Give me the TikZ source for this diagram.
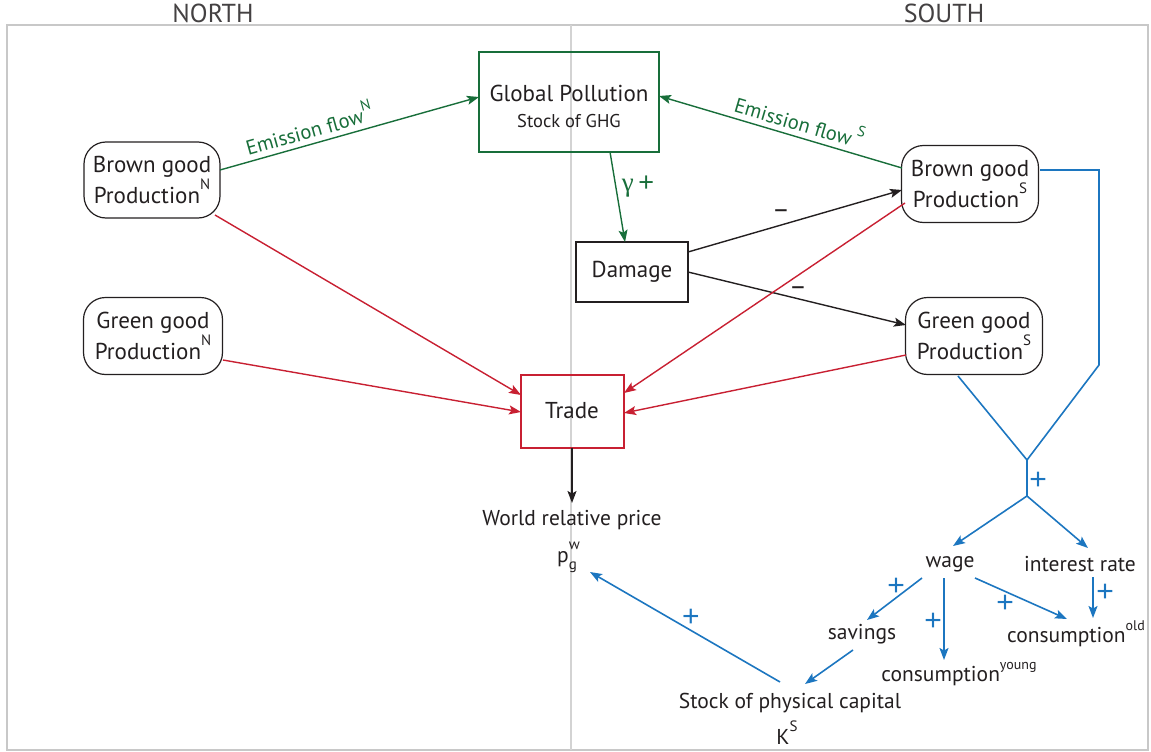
\documentclass[tikz,border=0pt]{standalone}
\usepackage{fontspec}
\setmainfont{PT Sans}
\newfontfamily\gfont{Liberation Serif}
\newfontfamily\pfont{Liberation Sans}
\usetikzlibrary{arrows.meta,calc,positioning}
\definecolor{cgreen}{RGB}{24,110,58}
\definecolor{cred}{RGB}{200,32,50}
\definecolor{cblue}{RGB}{28,118,192}
\definecolor{cgray}{RGB}{200,200,200}
\definecolor{ctext}{RGB}{35,31,32}
\newcommand{\sups}[1]{\raisebox{0.6em}{\fontsize{15}{15}\selectfont #1}}
\newcommand{\supw}[1]{\raisebox{0.55em}{\fontsize{14}{14}\selectfont #1}}
\begin{document}
\begin{tikzpicture}[x=1pt,y=-1pt,
  >={Stealth[length=12pt,width=9pt,inset=2.5pt]},
  boxfont/.style={font=\fontsize{23}{29}\selectfont,text=ctext},
  lblfont/.style={font=\fontsize{21.5}{26}\selectfont,text=ctext},
  prod/.style={draw=ctext,line width=1.2pt,rounded corners=22pt,minimum width=136pt,minimum height=76pt,align=center,inner sep=0pt,boxfont},
  gbox/.style={draw=cgreen,line width=2.2pt,minimum width=180pt,minimum height=100pt,align=center,inner sep=0pt,boxfont},
  kbox/.style={draw=ctext,line width=2pt,minimum width=112pt,minimum height=60pt,inner sep=0pt,boxfont},
  rbox/.style={draw=cred,line width=2pt,minimum width=103pt,minimum height=73pt,inner sep=0pt,boxfont},
  lbl/.style={inner sep=1pt,lblfont},
  gline/.style={draw=cgreen,line width=1.4pt},
  rline/.style={draw=cred,line width=1.4pt},
  kline/.style={draw=ctext,line width=1.4pt},
  bline/.style={draw=cblue,line width=1.6pt},
  plus/.style={text=cblue,font=\pfont\fontsize{30}{30}\selectfont,inner sep=0pt},
  minus/.style={text=ctext,font=\fontsize{27}{27}\selectfont,inner sep=0pt},
  emis/.style={text=cgreen,font=\fontsize{20.5}{20.5}\selectfont,inner sep=1pt},
  head/.style={text=ctext!85,font=\fontsize{26}{26}\selectfont,inner sep=0pt},
]
\useasboundingbox (0,0) rectangle (1151,752);
% frame
\draw[cgray,line width=1.8pt] (7,25) rectangle (1148,750);
\draw[cgray!80,line width=1.2pt] (571,25) -- (571,750);
\node[head] (north) at (213,13) {NORTH};
\node[head] (south) at (944,13) {SOUTH};

% nodes
\node[gbox] (gp) at (569,102) {\rule{0pt}{26pt}Global Pollution\\[-3pt]{\fontsize{18.5}{20}\selectfont Stock of GHG}};
\node[prod] (bn) at (152,180) {Brown good\\Production\sups{N}};
\node[prod,minimum width=139pt,minimum height=77pt] (gn) at (153,336) {Green good\\Production\sups{N}};
\node[prod,minimum width=137pt,minimum height=77pt] (bs) at (970,184) {Brown good\\Production\sups{S}};
\node[prod,minimum width=137pt,minimum height=77pt] (gs) at (974,336) {Green good\\Production\sups{S}};
\node[kbox] (dm) at (632,272) {Damage};
\node[rbox] (tr) at (572,411) {Trade};
\node[lbl] (pr) at (572,520) {World relative price};
\node[lbl] (pg) at (567,557) {p\makebox[0pt][l]{\raisebox{0.62em}{\fontsize{15}{15}\selectfont w}}\raisebox{-0.3em}{\fontsize{15}{15}\selectfont g}\hspace{6pt}};
\node[lbl] (wage) at (950,564) {wage};
\node[lbl] (ir) at (1080,564) {interest rate};
\node[lbl] (sav) at (862,634) {savings};
\node[lbl] (cy) at (959,674) {consumption\supw{young}};
\node[lbl] (co) at (1076,634) {consumption\supw{old}};
\node[lbl] (st) at (790,703) {Stock of physical capital};
\node[lbl] (ks) at (787,733) {K\sups{S}};

% green
\draw[gline,->] ($(bn)+(68,-10)$) -- node[pos=0.36,sloped,above=4pt,emis] {Emission flow\sups{N}} ($(gp)+(-90,-5)$);
\draw[gline,->] ($(bs)+(-68,-16)$) -- node[pos=0.44,sloped,above=4pt,emis] {Emission flow\,\sups{S}} ($(gp)+(90,-6)$);
\draw[gline,->] ($(gp)+(41,50)$) -- ($(dm)+(-7,-30)$);
\node[text=cgreen,font=\fontsize{27}{27}\selectfont,inner sep=0pt] (gam) at (638,187) {{\gfont γ}\,{\pfont +}};

% black
\draw[kline,->] ($(dm)+(56,-20)$) -- ($(bs)+(-68,6)$);
\draw[kline,->] ($(dm)+(56,0)$) -- ($(gs)+(-68,-11)$);
\node[minus] (m1) at (781,214) {–};
\node[minus] (m2) at (798,291) {–};
\draw[kline,->] ($(tr)+(0,37)$) -- ($(pr)+(0,-17)$);

% red
\draw[rline,->] ($(bn)+(63,35)$) -- ($(tr)+(-51,-16)$);
\draw[rline,->] ($(gn)+(70,24)$) -- ($(tr)+(-51,1)$);
\draw[rline,->] ($(bs)+(-65,19)$) -- ($(tr)+(52,-18)$);
\draw[rline,->] ($(gs)+(-68,19)$) -- ($(tr)+(52,2)$);

% blue
\coordinate (join) at (1027,460);
\coordinate (split) at (1027,496);
\draw[bline] ($(bs)+(70,-14)$) -- (1099,170) -- (1099,365) -- (join);
\draw[bline] ($(gs)+(-16,40)$) -- (join);
\draw[bline] (join) -- (split);
\draw[bline,->] (split) -- ($(wage)+(3,-18)$);
\draw[bline,->] (split) -- ($(ir)+(8,-16)$);
\draw[bline,->] ($(wage)+(-28,14)$) -- ($(sav)+(5,-14)$);
\draw[bline,->] ($(wage)+(-6,14)$) -- ($(cy)+(-15,-14)$);
\draw[bline,->] ($(wage)+(25,14)$) -- ($(co)+(-9,-15)$);
\draw[bline,->] ($(ir)+(13,13)$) -- ($(co)+(17,-16)$);
\draw[bline,->] ($(sav)+(-9,16)$) -- ($(st)+(15,-19)$);
\draw[bline,->] ($(st)+(-10,-21)$) -- ($(pg)+(23,15)$);
\node[plus] (p1) at (1038,481) {+};
\node[plus] (p2) at (896,587) {+};
\node[plus] (p3) at (933,622) {+};
\node[plus] (p4) at (1005,604) {+};
\node[plus] (p5) at (1105,593) {+};
\node[plus] (p6) at (691,618) {+};
\end{tikzpicture}
\end{document}
